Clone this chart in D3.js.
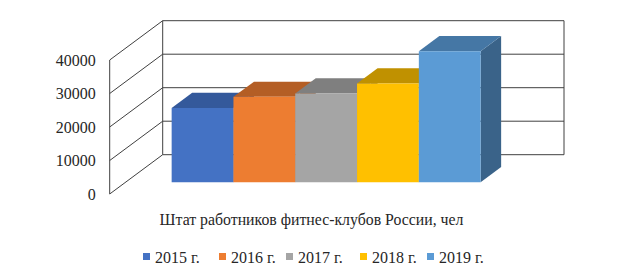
<!DOCTYPE html>
<html>
<head>
<meta charset="utf-8">
<script src="https://cdn.jsdelivr.net/npm/d3@7"></script>
<style>
  body { margin: 0; background: #fff; }
</style>
</head>
<body>
<div id="wrapper"></div>
<script>
// data
const years = ["2015 г.", "2016 г.", "2017 г.", "2018 г.", "2019 г."]
const staff = [22200, 25500, 26500, 29500, 39100]
const yTicks = [0, 10000, 20000, 30000, 40000]
const chartTitle = "Штат работников фитнес-клубов России, чел"

const frontColors = ["#4472c4", "#ed7d31", "#a5a5a5", "#ffc000", "#5b9bd5"]
const topColors = ["#34599b", "#b45e25", "#7f7f7f", "#c09100", "#4577a5"]
const sideColors = ["#2f5090", "#a35521", "#737373", "#ad8300", "#3a6389"]

const serif = '"Liberation Serif", "Times New Roman", serif'

function drawChart() {
  const dimensions = { width: 621, height: 277 }

  // oblique 3d: origin is the front-left floor corner
  const origin = { x: 109.7, y: 194 }
  const depth = { x: 53, y: -39.3 }
  const floorWidth = 401.3

  const wrapper = d3.select("#wrapper")
    .append("svg")
      .attr("width", dimensions.width)
      .attr("height", dimensions.height)

  const xScale = d3.scaleBand()
      .domain(years)
      .range([0, floorWidth])
      .paddingInner(0)
      .paddingOuter(0.747)

  const yScale = d3.scaleLinear()
      .domain([0, 40000])
      .range([0, -134])

  // x along floor, v value, z depth 0..1
  const project = (x, v, z) => [
    origin.x + x + z * depth.x,
    origin.y + yScale(v) + z * depth.y
  ]
  const line = d3.line()

  const walls = wrapper.append("g")
      .attr("fill", "none")
      .attr("stroke", "#404040")
      .attr("stroke-width", 1)

  // back wall gridlines and side wall diagonals
  yTicks.forEach(v => {
    walls.append("path")
        .attr("d", line([project(0, v, 1), project(floorWidth, v, 1)]))
    walls.append("path")
        .attr("d", line([project(0, v, 0), project(0, v, 1)]))
  })
  walls.append("path")
      .attr("d", line([project(0, 0, 0), project(0, 40000, 0)]))
  walls.append("path")
      .attr("d", line([project(0, 0, 1), project(0, 40000, 1)]))
  walls.append("path")
      .attr("d", line([project(floorWidth, 0, 1), project(floorWidth, 40000, 1)]))

  // y axis labels on the front edge
  const yAxisGenerator = d3.axisLeft(d3.scaleLinear().domain([0, 40000]).range([origin.y, origin.y - 134]))
      .tickValues(yTicks)
      .tickSize(0)
      .tickPadding(14)
      .tickFormat(d3.format("d"))

  const yAxis = wrapper.append("g")
      .attr("transform", `translate(${origin.x},0)`)
      .call(yAxisGenerator)
      .attr("font-family", serif)
      .attr("font-size", null)
  yAxis.select(".domain").remove()
  yAxis.selectAll("text")
      .style("font-family", serif)
      .style("font-size", "16px")
      .attr("fill", "#262626")

  // bars
  const z0 = 0.298
  const z1 = 0.685
  const bars = wrapper.append("g")
  years.forEach((year, i) => {
    const x0 = xScale(year)
    const x1 = x0 + xScale.bandwidth()
    const v = staff[i]
    const g = bars.append("g")
    g.append("path")
        .attr("d", line([project(x1, 0, z0), project(x1, v, z0), project(x1, v, z1), project(x1, 0, z1)]) + "Z")
        .attr("fill", sideColors[i])
    g.append("path")
        .attr("d", line([project(x0, v, z0), project(x1, v, z0), project(x1, v, z1), project(x0, v, z1)]) + "Z")
        .attr("fill", topColors[i])
    g.append("path")
        .attr("d", line([project(x0, 0, z0), project(x1, 0, z0), project(x1, v, z0), project(x0, v, z0)]) + "Z")
        .attr("fill", frontColors[i])
  })

  // title under the plot
  wrapper.append("text")
      .attr("x", 311.5)
      .attr("y", 219)
      .attr("text-anchor", "middle")
      .attr("dominant-baseline", "central")
      .attr("fill", "#262626")
      .style("font-family", serif)
      .style("font-size", "15.8px")
      .text(chartTitle)

  // legend
  const legendX = [143, 219, 286, 360, 427]
  const legend = wrapper.append("g")
  years.forEach((year, i) => {
    const item = legend.append("g")
        .attr("transform", `translate(${legendX[i]},257)`)
    item.append("rect")
        .attr("x", 0)
        .attr("y", -4)
        .attr("width", 7)
        .attr("height", 7)
        .attr("fill", frontColors[i])
    item.append("text")
        .attr("x", 12)
        .attr("y", 0)
        .attr("dominant-baseline", "central")
        .attr("fill", "#262626")
        .style("font-family", serif)
        .style("font-size", "16px")
        .text(year)
  })
}
drawChart()
</script>
</body>
</html>
